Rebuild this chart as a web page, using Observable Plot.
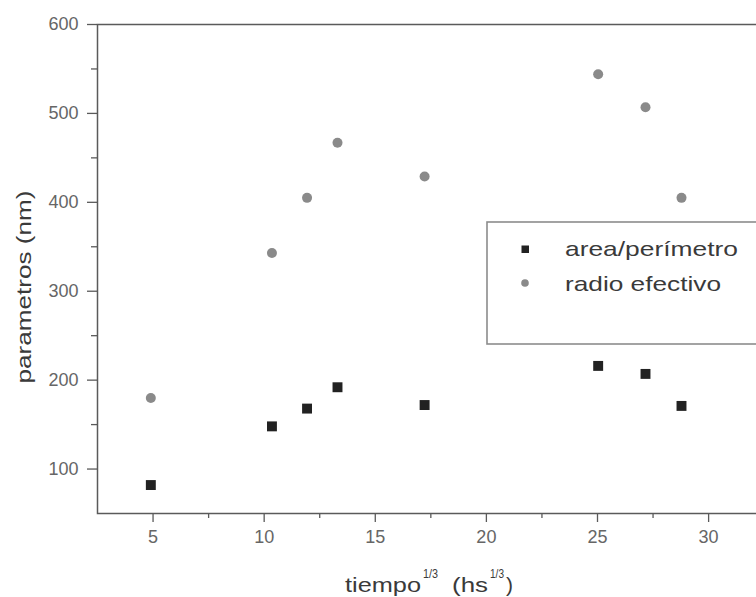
<!DOCTYPE html>
<html>
<head>
<meta charset="utf-8">
<script src="https://cdn.jsdelivr.net/npm/d3@7"></script>
<script src="https://cdn.jsdelivr.net/npm/@observablehq/plot@0.6"></script>
<style>
  html, body { margin: 0; padding: 0; background: #fff; overflow: hidden; }
  #wrap { position: relative; width: 756px; height: 597px; overflow: hidden; }
  #wrap svg { max-width: none !important; display: block; }
</style>
</head>
<body>
<div id="wrap"></div>
<script>
// ---- data ----
const tiempo = [4.9, 10.35, 11.93, 13.3, 17.22, 25.03, 27.16, 28.78];
const areaPerimetro = [82, 148, 168, 192, 172, 216, 207, 171];
const radioEfectivo = [180, 343, 405, 467, 429, 544, 507, 405];
const seriesNames = ["area/perímetro", "radio efectivo"];
const xMajorTicks = [5, 10, 15, 20, 25, 30];
const xMinorTicks = [7.5, 12.5, 17.5, 22.5, 27.5, 32.5];
const yMajorTicks = [100, 200, 300, 400, 500, 600];
const yMinorTicks = [150, 250, 350, 450, 550];
const yLabel = "parametros (nm)";

const squares = tiempo.map((t, i) => ({x: t, y: areaPerimetro[i]}));
const circles = tiempo.map((t, i) => ({x: t, y: radioEfectivo[i]}));

const axisColor = "#5a5a5a";
const labelColor = "#666";
const chart = Plot.plot({
  width: 800,
  height: 597,
  marginLeft: 97,
  marginRight: 3,
  marginTop: 24,
  marginBottom: 84,
  x: {domain: [2.5, 34]},
  y: {domain: [50, 600]},
  style: {fontFamily: "'Liberation Sans', Arial, sans-serif", fontSize: "18px", background: "#fff", color: axisColor, maxWidth: "none"},
  marks: [
    Plot.axisX({ticks: xMajorTicks, tickSize: 9, tickPadding: 8, stroke: axisColor, fill: labelColor, strokeWidth: 1.3, label: null, tickFormat: d => String(d)}),
    Plot.axisX({ticks: xMinorTicks, tickSize: 5, stroke: axisColor, strokeWidth: 1.3, label: null, tickFormat: () => ""}),
    Plot.axisY({ticks: yMajorTicks, tickSize: 10, tickPadding: 9, stroke: axisColor, fill: labelColor, strokeWidth: 1.3, label: null, tickFormat: d => String(d)}),
    Plot.axisY({ticks: yMinorTicks, tickSize: 6, stroke: axisColor, strokeWidth: 1.3, label: null, tickFormat: () => ""}),
    Plot.frame({stroke: "#5a5a5a", strokeWidth: 1.5}),
    Plot.dot(circles, {x: "x", y: "y", r: 5, fill: "#8a8a8a"}),
    Plot.dot(squares, {x: "x", y: "y", symbol: "square", r: 5.6, fill: "#222"})
  ]
});
chart.style.maxWidth = "none";

const svg = d3.select(chart);
const ff = "'Liberation Sans', Arial, sans-serif";
const titleColor = "#3a3a3a";

// y axis title
svg.append("text")
  .attr("transform", "translate(31,287) rotate(-90)")
  .attr("text-anchor", "middle")
  .attr("font-family", ff).attr("font-size", 21).attr("fill", titleColor)
  .attr("textLength", 193).attr("lengthAdjust", "spacingAndGlyphs")
  .text(yLabel);

// x axis title with superscripts
const xt = svg.append("g").attr("font-family", ff).attr("fill", titleColor).attr("text-anchor", "start");
xt.append("text").attr("x", 345).attr("y", 592).attr("font-size", 21)
  .attr("textLength", 76).attr("lengthAdjust", "spacingAndGlyphs").text("tiempo");
xt.append("text").attr("x", 423).attr("y", 578).attr("font-size", 12)
  .attr("textLength", 15).attr("lengthAdjust", "spacingAndGlyphs").text("1/3");
xt.append("text").attr("x", 452).attr("y", 592).attr("font-size", 21)
  .attr("textLength", 36).attr("lengthAdjust", "spacingAndGlyphs").text("(hs");
xt.append("text").attr("x", 490).attr("y", 578).attr("font-size", 12)
  .attr("textLength", 14).attr("lengthAdjust", "spacingAndGlyphs").text("1/3");
xt.append("text").attr("x", 506).attr("y", 592).attr("font-size", 21).text(")");

// legend
const lg = svg.append("g").attr("text-anchor", "start");
lg.append("rect").attr("x", 487).attr("y", 222).attr("width", 400).attr("height", 122)
  .attr("fill", "#fff").attr("stroke", "#8c8c8c").attr("stroke-width", 1.6);
lg.append("rect").attr("x", 521.5).attr("y", 245.5).attr("width", 7.5).attr("height", 7.5).attr("fill", "#222");
lg.append("circle").attr("cx", 525).attr("cy", 283).attr("r", 3.8).attr("fill", "#8a8a8a");
lg.append("text").attr("x", 565).attr("y", 256).attr("font-family", ff).attr("font-size", 21).attr("fill", titleColor)
  .attr("textLength", 173).attr("lengthAdjust", "spacingAndGlyphs").text(seriesNames[0]);
lg.append("text").attr("x", 565).attr("y", 291).attr("font-family", ff).attr("font-size", 21).attr("fill", titleColor)
  .attr("textLength", 156).attr("lengthAdjust", "spacingAndGlyphs").text(seriesNames[1]);

document.getElementById("wrap").appendChild(chart);
</script>
</body>
</html>
